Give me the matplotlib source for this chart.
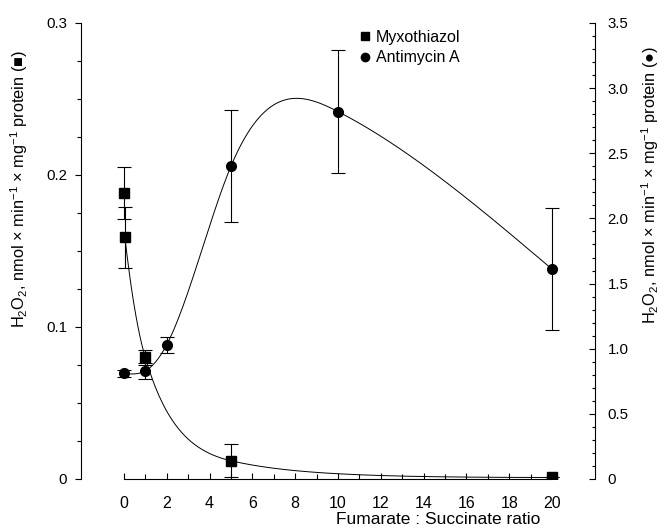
import numpy as np
import matplotlib
matplotlib.use('Agg')
import matplotlib.pyplot as plt
from matplotlib.lines import Line2D
from matplotlib.ticker import FixedLocator, MultipleLocator

plt.rcParams['font.family'] = ['Liberation Sans', 'DejaVu Sans']
plt.rcParams['mathtext.fontset'] = 'custom'
plt.rcParams['mathtext.rm'] = 'Liberation Sans'
plt.rcParams['mathtext.it'] = 'Liberation Sans:italic'
plt.rcParams['mathtext.default'] = 'regular'

# ---- data ----
ratio_myx = [0, 0.05, 1, 5, 20]
myx = [0.188, 0.159, 0.080, 0.012, 0.001]
myx_err = [0.017, 0.020, 0.005, 0.011, 0.0]

ratio_ant = [0, 1, 2, 5, 10, 20]
ant = [0.81, 0.83, 1.03, 2.40, 2.82, 1.61]
ant_err = [0.03, 0.06, 0.06, 0.43, 0.47, 0.47]

xticks = list(range(0, 21, 2))
left_ticks = [0, 0.1, 0.2, 0.3]
left_labels = ['0', '0.1', '0.2', '0.3']
right_ticks = [0, 0.5, 1.0, 1.5, 2.0, 2.5, 3.0, 3.5]
right_labels = ['0', '0.5', '1.0', '1.5', '2.0', '2.5', '3.0', '3.5']


def pchip(x, y, xn):
    x = np.asarray(x, float); y = np.asarray(y, float)
    h = np.diff(x); d = np.diff(y) / h
    n = len(x)
    m = np.zeros(n)
    for k in range(1, n - 1):
        if d[k - 1] * d[k] > 0:
            w1 = 2 * h[k] + h[k - 1]; w2 = h[k] + 2 * h[k - 1]
            m[k] = (w1 + w2) / (w1 / d[k - 1] + w2 / d[k])

    def endslope(h0, h1, d0, d1):
        s = ((2 * h0 + h1) * d0 - h0 * d1) / (h0 + h1)
        if np.sign(s) != np.sign(d0):
            s = 0.0
        elif np.sign(d0) != np.sign(d1) and abs(s) > abs(3 * d0):
            s = 3 * d0
        return s
    m[0] = endslope(h[0], h[1], d[0], d[1])
    m[-1] = endslope(h[-1], h[-2], d[-1], d[-2])
    idx = np.clip(np.searchsorted(x, xn) - 1, 0, n - 2)
    t = (xn - x[idx]) / h[idx]
    h00 = 2 * t**3 - 3 * t**2 + 1; h10 = t**3 - 2 * t**2 + t
    h01 = -2 * t**3 + 3 * t**2; h11 = t**3 - t**2
    return h00 * y[idx] + h10 * h[idx] * m[idx] + h01 * y[idx + 1] + h11 * h[idx] * m[idx + 1]


def natural_spline(x, y, xn):
    x = np.asarray(x, float); y = np.asarray(y, float)
    n = len(x); h = np.diff(x)
    A = np.zeros((n, n)); r = np.zeros(n)
    A[0, 0] = 1; A[-1, -1] = 1
    for i in range(1, n - 1):
        A[i, i - 1] = h[i - 1]; A[i, i] = 2 * (h[i - 1] + h[i]); A[i, i + 1] = h[i]
        r[i] = 3 * ((y[i + 1] - y[i]) / h[i] - (y[i] - y[i - 1]) / h[i - 1])
    c = np.linalg.solve(A, r)
    b = (y[1:] - y[:-1]) / h - h * (2 * c[:-1] + c[1:]) / 3
    dd = (c[1:] - c[:-1]) / (3 * h)
    idx = np.clip(np.searchsorted(x, xn) - 1, 0, n - 2)
    dx = xn - x[idx]
    return y[idx] + b[idx] * dx + c[idx] * dx**2 + dd[idx] * dx**3


fig = plt.figure(figsize=(6.68, 5.31), dpi=100)
ax = fig.add_axes([81 / 668, 52 / 531, 514 / 668, 456 / 531])
ax2 = ax.twinx()

FS_Y = 10.8     # y tick labels
FS_X = 11.5     # x tick labels
FS_XL = 12.5    # x axis title
FS_YL = 11.8    # y axis titles
FS_LEG = 11.5

# Myxothiazol curve (fit through points after the first replicate)
xm = np.linspace(ratio_myx[1], ratio_myx[-1], 400)
ym = np.exp(pchip(ratio_myx[1:], np.log(myx[1:]), xm))
ax.plot(xm, ym, color='black', lw=0.7, zorder=2)
ax.errorbar(ratio_myx, myx, yerr=myx_err, fmt='s', color='black', ms=6.5,
            elinewidth=0.8, capsize=5, capthick=0.8, zorder=3)

# Antimycin A curve
xa = np.linspace(ratio_ant[0], ratio_ant[-1], 400)
ya = natural_spline(ratio_ant, ant, xa)
ax2.plot(xa, ya, color='black', lw=0.7, zorder=2)
ax2.errorbar(ratio_ant, ant, yerr=ant_err, fmt='o', color='black', ms=7,
             elinewidth=0.8, capsize=5, capthick=0.8, zorder=3)

ax.set_xlim(-2, 22)
ax.set_ylim(0, 0.3)
ax2.set_ylim(0, 3.5)

for s in ['top', 'right']:
    ax.spines[s].set_visible(False)
for s in ['top', 'left', 'bottom']:
    ax2.spines[s].set_visible(False)
ax.spines['bottom'].set_bounds(0, 20)
for sp in [ax.spines['left'], ax.spines['bottom'], ax2.spines['right']]:
    sp.set_linewidth(0.8)

ax.set_xticks(xticks)
ax.set_xticklabels([str(v) for v in xticks], fontsize=FS_X)
ax.xaxis.set_minor_locator(FixedLocator(list(range(1, 20, 2))))
ax.tick_params(axis='x', which='major', direction='in', length=4, width=0.8, pad=12.5)
ax.tick_params(axis='x', which='minor', direction='in', length=3.5, width=0.8)

ax.set_yticks(left_ticks)
ax.set_yticklabels(left_labels, fontsize=FS_Y)
ax.yaxis.set_minor_locator(MultipleLocator(0.025))
ax.tick_params(axis='y', which='major', direction='out', length=4, width=0.8, pad=6)
ax.tick_params(axis='y', which='minor', direction='out', length=3, width=0.8)

ax2.set_yticks(right_ticks)
ax2.set_yticklabels(right_labels, fontsize=FS_Y)
ax2.yaxis.set_minor_locator(MultipleLocator(0.1))
ax2.tick_params(axis='y', which='major', direction='in', length=4, width=0.8, pad=9)
ax2.tick_params(axis='y', which='minor', direction='in', length=2.5, width=0.8)

ax.set_ylabel(r'H$_2$O$_2$, nmol × min$^{-1}$ × mg$^{-1}$ protein (■)', fontsize=FS_YL)
ax.yaxis.set_label_coords((19 - 81) / 514, 0.635)
ax.yaxis.label.set_va('center')
ax2.set_ylabel(r'H$_2$O$_2$, nmol × min$^{-1}$ × mg$^{-1}$ protein (●)', fontsize=FS_YL)
ax2.yaxis.set_label_coords((650 - 81) / 514, 0.645)
ax2.yaxis.label.set_va('center')

ax.set_xlabel('Fumarate : Succinate ratio', fontsize=FS_XL)
ax.xaxis.set_label_coords((438 - 81) / 514, -(520 - 479) / 456)
ax.xaxis.label.set_va('center')

handles = [Line2D([], [], ls='none', marker='s', color='black', ms=5.5),
           Line2D([], [], ls='none', marker='o', color='black', ms=6)]
fig.legend(handles, ['Myxothiazol', 'Antimycin A'], loc='upper left',
           bbox_to_anchor=(358.5 / 668, 1 - 30 / 531), frameon=False, fontsize=FS_LEG,
           handlelength=0.8, handletextpad=0.3, labelspacing=0.33, borderaxespad=0,
           borderpad=0)

fig.savefig('out.png', dpi=100)
